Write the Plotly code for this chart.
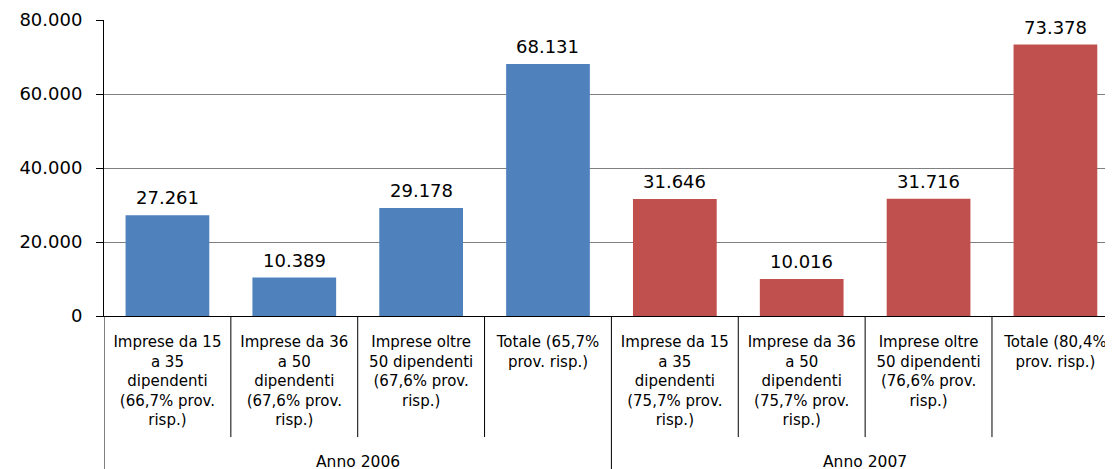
import plotly.graph_objects as go

years = ["Anno 2006", "Anno 2007"]
cats_2006 = [
    "Imprese da 15<br>a 35<br>dipendenti<br>(66,7% prov.<br>risp.)",
    "Imprese da 36<br>a 50<br>dipendenti<br>(67,6% prov.<br>risp.)",
    "Imprese oltre<br>50 dipendenti<br>(67,6% prov.<br>risp.)",
    "Totale (65,7%<br>prov. risp.)",
]
cats_2007 = [
    "Imprese da 15<br>a 35<br>dipendenti<br>(75,7% prov.<br>risp.)",
    "Imprese da 36<br>a 50<br>dipendenti<br>(75,7% prov.<br>risp.)",
    "Imprese oltre<br>50 dipendenti<br>(76,6% prov.<br>risp.)",
    "Totale (80,4%<br>prov. risp.)",
]
vals_2006 = [27261, 10389, 29178, 68131]
vals_2007 = [31646, 10016, 31716, 73378]
ytick_vals = [0, 20000, 40000, 60000, 80000]

FONT = "DejaVu Sans"
fig = go.Figure()
annotations = []
for cats, vals, col in [(cats_2006, vals_2006, "#4F81BD"), (cats_2007, vals_2007, "#C0504D")]:
    fig.add_trace(go.Bar(
        x=cats, y=vals, width=0.66, marker=dict(color=col, line=dict(width=0)),
        showlegend=False,
    ))
    for c, v in zip(cats, vals):
        annotations.append(dict(x=c, y=v, xref="x", yref="y", yanchor="bottom", yshift=5,
                                text=f"{v:,}".replace(",", "."), showarrow=False,
                                font=dict(family=FONT, size=18, color="#000")))

n = len(cats_2006) + len(cats_2007)
shapes = []
for i in range(n + 1):
    xpos = i - 0.5
    y0 = -0.62 if i % 4 == 0 else -0.409
    shapes.append(dict(type="line", xref="x", yref="paper", x0=xpos, x1=xpos, y0=0, y1=y0,
                       line=dict(color="#000", width=1)))

for g, yr in enumerate(years):
    annotations.append(dict(x=g * 4 + 1.5, xref="x", y=-0.455, yref="paper", yanchor="top",
                            text=yr, showarrow=False, font=dict(family=FONT, size=15.5, color="#000")))

# page body has an 8px margin: the figure is sized so that the plot lands where the reference has it
fig.update_layout(
    width=1105, height=461,
    margin=dict(l=96, r=0, t=12, b=153),
    paper_bgcolor="white", plot_bgcolor="white",
    separators=",.",
    barmode="overlay",
    shapes=shapes, annotations=annotations,
    xaxis=dict(type="category", range=[-0.5, 7.454], showgrid=False, ticks="",
               showline=True, linecolor="#000", linewidth=1, automargin=False,
               ticklabelstandoff=12,
               tickfont=dict(family=FONT, size=15, color="#000"), tickangle=0),
    yaxis=dict(range=[0, 80000], tickvals=ytick_vals, tickformat=",d",
               showgrid=True, gridcolor="#808080", gridwidth=1,
               ticks="outside", ticklen=7, tickcolor="#000", automargin=False,
               ticklabelstandoff=10,
               showline=True, linecolor="#000", linewidth=1, zeroline=False,
               tickfont=dict(family=FONT, size=18, color="#000")),
)
fig.write_html("out.html")
